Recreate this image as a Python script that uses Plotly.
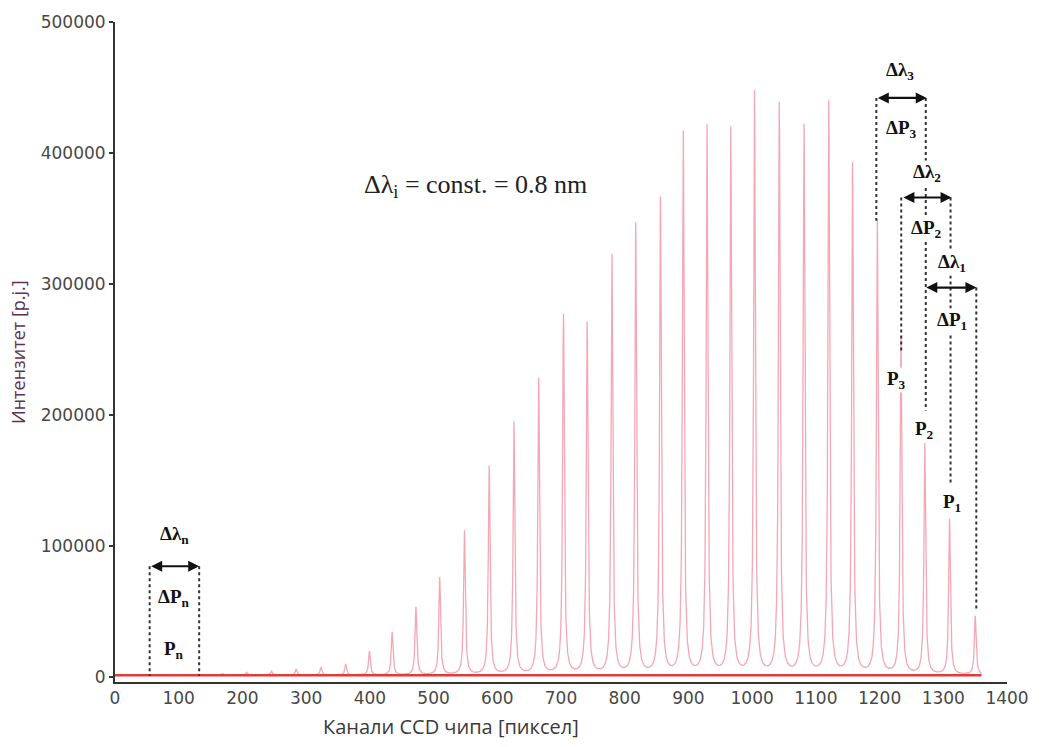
import numpy as np
import plotly.graph_objects as go

# ---- data ----
peak_centers = [90, 129, 168, 206.6, 245.5, 284.3, 323.2, 362.0, 399.3, 435.0, 472.3, 509.6,
                548.5, 587.3, 626.2, 665.0, 703.9, 741.1, 780.0, 817.3, 856.1, 891.9,
                929.2, 966.5, 1003.7, 1042.6, 1081.4, 1120.3, 1157.6, 1196.4, 1233.7,
                1271.0, 1309.8, 1350.2]
peak_heights = [600, 900, 1400, 2300, 3000, 4600, 6100, 8400, 18300, 32800, 51900, 74800,
                110000, 159500, 193100, 226000, 275600, 269500, 319900, 344300, 364900, 415300,
                419100, 416800, 445000, 437400, 420600, 437400, 391600, 348100, 256500,
                176300, 119000, 45000]
peak_hwhm = 1.6
baseline_level = 1200
x_start, x_end = 0, 1360

x_ticks = [0, 100, 200, 300, 400, 500, 600, 700, 800, 900, 1000, 1100, 1200, 1300, 1400]
y_ticks = [0, 100000, 200000, 300000, 400000, 500000]

# spectrum built from the peak list (Lorentzian line shapes)
x = np.arange(x_start, x_end + 0.001, 0.25)
y = np.full_like(x, baseline_level, dtype=float)
for c, h in zip(peak_centers, peak_heights):
    y += h * peak_hwhm**2 / (peak_hwhm**2 + (x - c) ** 2)

fig = go.Figure()
fig.add_trace(go.Scatter(x=x, y=y, mode="lines",
                         line=dict(color="rgba(240,130,150,0.7)", width=1.3),
                         hoverinfo="skip", showlegend=False))
fig.add_trace(go.Scatter(x=[x_start, x_end], y=[baseline_level, baseline_level], mode="lines",
                         line=dict(color="#e23b3b", width=2.5),
                         hoverinfo="skip", showlegend=False))

dot = dict(color="#333333", width=2, dash="dot")
# dotted guide lines (x, y0, y1)
guides = [(1194.9, 442000, 348200), (1272.5, 442000, 203400), (1234.0, 366000, 249200),
          (1311.4, 366000, 147700), (1351.8, 297200, 50800),
          (54.4, 84400, 600), (132.1, 84400, 600)]
for gx, gy0, gy1 in guides:
    fig.add_shape(type="line", x0=gx, x1=gx, y0=gy0, y1=gy1, xref="x", yref="y", line=dot)

ann = []
# double arrows
for xa, xb, ya in [(1194.9, 1274, 442000), (1235, 1313, 366000), (1271, 1352, 297200),
                   (54.4, 132.1, 84400)]:
    ann.append(dict(x=xb, y=ya, ax=xa, ay=ya, xref="x", yref="y", axref="x", ayref="y",
                    text="", showarrow=True, arrowhead=2, startarrowhead=2,
                    arrowside="end+start", arrowwidth=2.2, arrowsize=1, arrowcolor="#111",
                    standoff=0, startstandoff=0))

lab_font = dict(family="Liberation Serif, Times New Roman, serif", size=19, color="#111")
labels = [("Δλ<sub>3</sub>", 1232, 462600), ("ΔP<sub>3</sub>", 1235, 418400),
          ("Δλ<sub>2</sub>", 1274, 384900), ("ΔP<sub>2</sub>", 1274, 342200),
          ("Δλ<sub>1</sub>", 1313, 316200), ("ΔP<sub>1</sub>", 1313, 272000),
          ("P<sub>3</sub>", 1227, 226300), ("P<sub>2</sub>", 1271, 188200),
          ("P<sub>1</sub>", 1313, 132500),
          ("Δλ<sub>n</sub>", 93.2, 108100), ("ΔP<sub>n</sub>", 93.2, 60100),
          ("P<sub>n</sub>", 93.2, 20400)]
for t, lx, ly in labels:
    ann.append(dict(x=lx, y=ly, xref="x", yref="y", text="<b>" + t + "</b>", showarrow=False,
                    font=lab_font, bgcolor="white", borderpad=0))

ann.append(dict(x=565.6, y=374900, xref="x", yref="y", text="Δλ<sub>i</sub> = const. = 0.8 nm",
                showarrow=False,
                font=dict(family="Liberation Serif, Times New Roman, serif", size=26, color="#222")))

# axis titles
ann.append(dict(x=528, y=-0.068, xref="x", yref="paper", yanchor="middle",
                text="Канали CCD чипа [пиксел]", showarrow=False,
                font=dict(family="Open Sans, Noto Sans, sans-serif", size=20, color="#3a3a3a")))
ann.append(dict(x=(17 - 115) / 901.0, y=0.5, xref="paper", yref="paper", xanchor="center",
                text="Интензитет [p.j.]", showarrow=False, textangle=-90,
                font=dict(family="Open Sans, Noto Sans, sans-serif", size=18, color="#5e3352")))

tick_font = dict(family="DejaVu Sans, Verdana, sans-serif", size=17, color="#484848")
fig.update_layout(
    width=1041, height=747,
    margin=dict(l=115, r=25, t=21, b=65),
    paper_bgcolor="white", plot_bgcolor="white",
    annotations=ann,
    xaxis=dict(range=[0, 1400], tickvals=x_ticks, ticktext=[str(v) for v in x_ticks],
               showgrid=False, zeroline=False, showline=True, linecolor="#333", linewidth=2,
               ticks="", tickfont=tick_font),
    yaxis=dict(range=[-4000, 500000], tickvals=y_ticks, ticktext=[str(v) for v in y_ticks],
               showgrid=False, zeroline=False, showline=True, linecolor="#333", linewidth=2,
               ticks="outside", ticklen=4, tickwidth=2, tickcolor="#333",
               tickfont=tick_font),
)

fig.write_html("out.html")
